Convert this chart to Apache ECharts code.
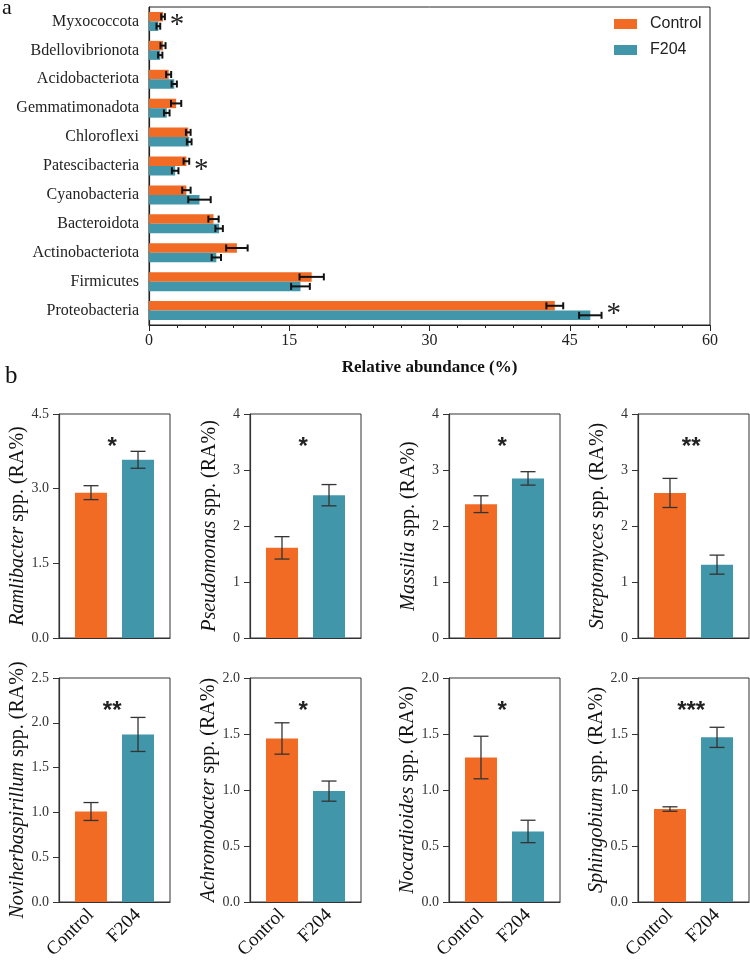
<!DOCTYPE html>
<html>
<head>
<meta charset="utf-8">
<script src="https://cdn.jsdelivr.net/npm/echarts@6/dist/echarts.min.js"></script>
<style>
	html, body { margin: 0; padding: 0; background: #fff; }
	#main { width: 750px; height: 970px; }
</style>
</head>
<body>
<div id="main"></div>
<script>
// groups
var groups = ['Control', 'F204'];

// a: phylum level
var phyla = ['Myxococcota', 'Bdellovibrionota', 'Acidobacteriota', 'Gemmatimonadota', 'Chloroflexi', 'Patescibacteria',
	'Cyanobacteria', 'Bacteroidota', 'Actinobacteriota', 'Firmicutes', 'Proteobacteria'];
var phylaControl = [1.5, 1.5, 2.1, 2.9, 4.2, 4.0, 4.0, 6.9, 9.4, 17.4, 43.4];
var phylaControlSd = [0.2, 0.27, 0.27, 0.55, 0.25, 0.3, 0.45, 0.55, 1.15, 1.3, 0.9];
var phylaF204 = [1.0, 1.2, 2.7, 1.9, 4.3, 2.8, 5.4, 7.5, 7.2, 16.2, 47.2];
var phylaF204Sd = [0.2, 0.23, 0.28, 0.3, 0.25, 0.35, 1.2, 0.4, 0.5, 1.0, 1.2];
var phylaSig = ['*', '', '', '', '', '*', '', '', '', '', '*'];
var phylaTicks = [0, 15, 30, 45, 60];

// b: genus level
var genera = ['Ramlibacter', 'Pseudomonas', 'Massilia', 'Streptomyces', 'Noviherbaspirillum', 'Achromobacter', 'Nocardioides', 'Sphingobium'];
var genusControl = [2.92, 1.61, 2.39, 2.59, 1.01, 1.46, 1.29, 0.83];
var genusControlSd = [0.14, 0.20, 0.15, 0.26, 0.10, 0.14, 0.19, 0.02];
var genusF204 = [3.58, 2.55, 2.85, 1.31, 1.87, 0.99, 0.63, 1.47];
var genusF204Sd = [0.17, 0.19, 0.12, 0.17, 0.19, 0.09, 0.10, 0.09];
var genusSig = ['*', '*', '*', '**', '**', '*', '*', '***'];
var genusMax = [4.5, 4, 4, 4, 2.5, 2, 2, 2];
var genusStep = [1.5, 1, 1, 1, 0.5, 0.5, 0.5, 0.5];
var genusDec = [1, 0, 0, 0, 1, 1, 1, 1];

var ORANGE = '#F26B24', TEAL = '#4196AA';
var SERIF = '"Liberation Serif", "Times New Roman", serif';
var SANS = '"Liberation Sans", Arial, sans-serif';
var BAR_H = 9.5;

var chart = echarts.init(document.getElementById('main'));

//error bar, horizontal (a)
function hErr(off) {
	return function (params, api) {
		var cat = api.value(0), m = api.value(1), e = api.value(2);
		var lo = api.coord([m - e, cat]), hi = api.coord([m + e, cat]);
		var y = lo[1] + off, c = 3.5;
		var st = {stroke: '#111', lineWidth: 2};
		return {type: 'group', children: [
			{type: 'line', shape: {x1: lo[0], y1: y, x2: hi[0], y2: y}, style: st},
			{type: 'line', shape: {x1: lo[0], y1: y - c, x2: lo[0], y2: y + c}, style: st},
			{type: 'line', shape: {x1: hi[0], y1: y - c, x2: hi[0], y2: y + c}, style: st}
		]};
	};
}

//error bar, vertical (b)
function vErr(params, api) {
	var x = api.value(0), m = api.value(1), e = api.value(2);
	var hi = api.coord([x, m + e]), lo = api.coord([x, m - e]);
	var c = 7.5;
	var st = {stroke: '#333', lineWidth: 1.3};
	return {type: 'group', children: [
		{type: 'line', shape: {x1: hi[0], y1: hi[1], x2: lo[0], y2: lo[1]}, style: st},
		{type: 'line', shape: {x1: hi[0] - c, y1: hi[1], x2: hi[0] + c, y2: hi[1]}, style: st},
		{type: 'line', shape: {x1: lo[0] - c, y1: lo[1], x2: lo[0] + c, y2: lo[1]}, style: st}
	]};
}

//significance text
function sigText(txt, font, dy) {
	return function (params, api) {
		var p = api.coord([api.value(0), api.value(1)]);
		return {type: 'text', x: p[0], y: p[1] + dy, style: {text: txt, font: font, fill: '#222', align: 'center', verticalAlign: 'middle'}};
	};
}

var grids = [], xAxes = [], yAxes = [], series = [];

// ---- a ----
grids.push({left: 149, right: 40, top: 7, bottom: 645, show: true, borderColor: '#222', borderWidth: 1});
xAxes.push({
	type: 'value', gridIndex: 0, min: phylaTicks[0], max: phylaTicks[phylaTicks.length - 1], interval: phylaTicks[1] - phylaTicks[0],
	axisLine: {show: true, onZero: false, lineStyle: {color: '#222', width: 1.2}},
	axisTick: {show: true, length: 6, lineStyle: {color: '#222'}},
	minorTick: {show: true, splitNumber: 5, length: 3, lineStyle: {color: '#222'}},
	splitLine: {show: false},
	axisLabel: {fontFamily: SERIF, fontSize: 16, color: '#222', margin: 8},
	name: 'Relative abundance (%)', nameLocation: 'middle', nameGap: 34,
	nameTextStyle: {fontFamily: SERIF, fontSize: 17, fontWeight: 'bold', color: '#111'}
});
yAxes.push({
	type: 'category', gridIndex: 0, data: phyla, inverse: true,
	axisLine: {lineStyle: {color: '#222', width: 1.2}},
	axisTick: {alignWithLabel: true, length: 6, lineStyle: {color: '#222'}},
	axisLabel: {fontFamily: SERIF, fontSize: 16, color: '#222', margin: 10}
});
series.push({type: 'bar', name: groups[0], xAxisIndex: 0, yAxisIndex: 0, data: phylaControl,
	barWidth: BAR_H, barGap: '0%', itemStyle: {color: ORANGE}});
series.push({type: 'bar', name: groups[1], xAxisIndex: 0, yAxisIndex: 0, data: phylaF204,
	barWidth: BAR_H, barGap: '0%', itemStyle: {color: TEAL}});
series.push({type: 'custom', xAxisIndex: 0, yAxisIndex: 0, encode: {x: 1, y: 0}, z: 5, renderItem: hErr(-BAR_H / 2),
	data: phyla.map(function (p, i) { return [p, phylaControl[i], phylaControlSd[i]]; })});
series.push({type: 'custom', xAxisIndex: 0, yAxisIndex: 0, encode: {x: 1, y: 0}, z: 5, renderItem: hErr(BAR_H / 2),
	data: phyla.map(function (p, i) { return [p, phylaF204[i], phylaF204Sd[i]]; })});
var sigA = [];
phyla.forEach(function (p, i) {
	if (phylaSig[i]) {
		sigA.push([p, Math.max(phylaControl[i] + phylaControlSd[i], phylaF204[i] + phylaF204Sd[i]) + 1.3]);
	}
});
series.push({type: 'custom', xAxisIndex: 0, yAxisIndex: 0, encode: {x: 1, y: 0}, z: 6,
	renderItem: function (params, api) {
		var p = api.coord([api.value(1), api.value(0)]);
		return {type: 'text', x: p[0], y: p[1] + 4, style: {text: '*', font: '29px ' + SERIF, fill: '#222', align: 'center', verticalAlign: 'middle'}};
	},
	data: sigA});

// ---- b ----
var colLeft = [59, 250, 449, 638], rowTop = [414, 678];
genera.forEach(function (g, i) {
	var gi = i + 1;
	var lastRow = i >= 4;
	grids.push({left: colLeft[i % 4], top: rowTop[Math.floor(i / 4)], width: 111, height: 224,
		show: true, borderColor: '#333', borderWidth: 1});
	xAxes.push({
		type: 'value', gridIndex: gi, min: -0.68, max: 1.68,
		axisLine: {show: true, onZero: false, lineStyle: {color: '#333', width: 1.2}},
		axisTick: {show: false},
		splitLine: {show: false},
		axisLabel: {show: lastRow, customValues: [0, 1], rotate: 45, margin: 10, fontFamily: SERIF, fontSize: 19, color: '#111',
			formatter: function (v) { return groups[Math.round(v)]; }}
	});
	yAxes.push({
		type: 'value', gridIndex: gi, min: 0, max: genusMax[i], interval: genusStep[i],
		axisLine: {show: true, onZero: false, lineStyle: {color: '#333', width: 1.2}},
		axisTick: {show: true, length: 6, lineStyle: {color: '#333'}},
		splitLine: {show: false},
		axisLabel: {fontFamily: SERIF, fontSize: 14, color: '#333', margin: 10,
			formatter: function (v) { return v.toFixed(genusDec[i]); }},
		name: '{i|' + g + '} spp. (RA%)', nameLocation: 'middle', nameGap: 30,
		nameTextStyle: {fontFamily: SERIF, fontSize: 20, color: '#111',
			rich: {i: {fontStyle: 'italic', fontFamily: SERIF, fontSize: 20, color: '#111'}}}
	});
	series.push({type: 'bar', xAxisIndex: gi, yAxisIndex: gi, barWidth: 32, data: [
		{value: [0, genusControl[i]], itemStyle: {color: ORANGE}},
		{value: [1, genusF204[i]], itemStyle: {color: TEAL}}
	]});
	series.push({type: 'custom', xAxisIndex: gi, yAxisIndex: gi, encode: {x: 0, y: 1}, z: 5, renderItem: vErr,
		data: [[0, genusControl[i], genusControlSd[i]], [1, genusF204[i], genusF204Sd[i]]]});
	series.push({type: 'custom', xAxisIndex: gi, yAxisIndex: gi, encode: {x: 0, y: 1}, z: 6,
		renderItem: sigText(genusSig[i], 'bold 24px ' + SANS, 0),
		data: [[0.45, genusMax[i] * 0.85]]});
});

chart.setOption({
	animation: false,
	backgroundColor: '#fff',
	legend: {data: groups, orient: 'vertical', left: 609, top: 11, itemWidth: 23, itemHeight: 10, itemGap: 10, icon: 'rect',
		textStyle: {fontFamily: SANS, fontSize: 16, color: '#222', padding: [0, 0, 0, 8]}},
	graphic: [
		{type: 'text', left: 2, top: -3, style: {text: 'a', font: '22px ' + SERIF, fill: '#111'}},
		{type: 'text', left: 5, top: 364, style: {text: 'b', font: '25px ' + SERIF, fill: '#111'}}
	],
	grid: grids,
	xAxis: xAxes,
	yAxis: yAxes,
	series: series
});
</script>
</body>
</html>
